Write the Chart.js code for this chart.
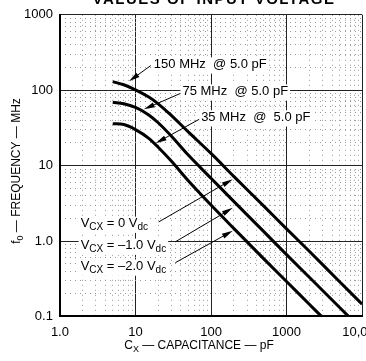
<!DOCTYPE html>
<html>
<head>
<meta charset="utf-8">
<script src="https://cdn.jsdelivr.net/npm/chart.js@4.4.1/dist/chart.umd.min.js"></script>
<style>
  html, body { margin: 0; padding: 0; background: #fff; overflow: hidden; }
  #wrap { position: relative; width: 366px; height: 361px; overflow: hidden; }
  #myChart { position: absolute; left: 0; top: 0; }
</style>
</head>
<body>
<div id="wrap"><canvas id="myChart" width="390" height="361" style="width:390px;height:361px"></canvas></div>
<script>
// f0 vs Cx, one curve per input voltage
const capV0  = [5, 7, 10, 15, 20, 30, 50, 100, 200, 500, 1000, 2000, 5000, 10000];
const freqV0 = [130, 118, 101, 81, 66, 46, 28, 14.5, 7.2, 2.9, 1.45, 0.73, 0.29, 0.145];

const capV1  = [5, 7, 10, 15, 20, 30, 50, 100, 200, 500, 1000, 2000, 5000, 6600];
const freqV1 = [69, 66, 59, 47, 37, 24.5, 13.8, 6.8, 3.35, 1.33, 0.66, 0.33, 0.132, 0.1];

const capV2  = [5, 7, 10, 15, 20, 30, 50, 100, 200, 500, 1000, 2000, 2900];
const freqV2 = [36, 35, 30, 23, 17.5, 11.4, 6.3, 3.0, 1.47, 0.58, 0.29, 0.145, 0.1];

const xTicks = [1, 10, 100, 1000, 10000];
const xTickLabels = ['1.0', '10', '100', '1000', '10,000'];
const yTicks = [0.1, 1, 10, 100, 1000];
const yTickLabels = ['0.1', '1.0', '10', '100', '1000'];

// minor grid positions 2..9 in each decade
function minorTicks(lo, hi) {
  const out = [];
  for (let d = lo; d < hi; d *= 10)
    for (let m = 2; m < 10; m++) out.push(+(d * m).toPrecision(3));
  return out;
}

const FONT = "'Liberation Sans', Arial, Helvetica, sans-serif";
Chart.defaults.font.family = FONT;
Chart.defaults.color = '#000';

const toXY = (xs, ys) => xs.map((v, i) => ({ x: v, y: ys[i] }));

const line = (label, xs, ys) => ({
  label,
  data: toXY(xs, ys),
  borderColor: '#000',
  borderWidth: 3,
  pointRadius: 0,
  cubicInterpolationMode: 'monotone',
  xAxisID: 'x',
  yAxisID: 'y',
});

// text + arrows; positions in data units so the tips land on the curves
const notes = [
  { parts: [['150 MHz  @ 5.0 pF']], at: [17.5, 219], from: [15.9, 212], tip: [8.2, 131] },
  { parts: [['75 MHz  @ 5.0 pF']], at: [41.8, 96], from: [39.3, 90.6], tip: [12.9, 55.7] },
  { parts: [['35 MHz  @  5.0 pF']], at: [74, 43.6], from: [69.7, 41.1], tip: [18.5, 19.8] },
  { parts: [['V'], ['CX', 1], [' = 0 V'], ['dc', 1]], at: [1.88, 1.69], from: [20.3, 1.79], tip: [194, 6.6] },
  { parts: [['V'], ['CX', 1], [' = \u20131.0 V'], ['dc', 1]], at: [1.88, 0.865], from: [33.8, 0.977], tip: [194, 2.75] },
  { parts: [['V'], ['CX', 1], [' = \u20132.0 V'], ['dc', 1]], at: [1.88, 0.457], from: [33.8, 0.517], tip: [194, 1.365] },
];

function drawParts(ctx, parts, x, y, size, align, clear) {
  const sub = Math.round(size * 0.78);
  let w = 0;
  parts.forEach(p => {
    ctx.font = (p[1] ? sub : size) + 'px ' + FONT;
    w += ctx.measureText(p[0]).width;
  });
  let cx = align === 'center' ? x - w / 2 : x;
  if (clear) {
    ctx.save();
    ctx.fillStyle = '#fff';
    ctx.fillRect(cx - 2, y - size * 0.55, w + 4, size * 1.25);
    ctx.restore();
  }
  ctx.textAlign = 'left';
  ctx.textBaseline = 'middle';
  parts.forEach(p => {
    ctx.font = (p[1] ? sub : size) + 'px ' + FONT;
    ctx.fillText(p[0], cx, p[1] ? y + size * 0.28 : y);
    cx += ctx.measureText(p[0]).width;
  });
}

function arrow(ctx, x1, y1, x2, y2) {
  const a = Math.atan2(y2 - y1, x2 - x1);
  const len = 11, half = 2.6;
  ctx.beginPath();
  ctx.moveTo(x1, y1);
  ctx.lineTo(x2 - Math.cos(a) * len * 0.7, y2 - Math.sin(a) * len * 0.7);
  ctx.lineWidth = 1;
  ctx.strokeStyle = '#000';
  ctx.stroke();
  ctx.beginPath();
  ctx.moveTo(x2, y2);
  ctx.lineTo(x2 - Math.cos(a) * len - Math.sin(a) * half, y2 - Math.sin(a) * len + Math.cos(a) * half);
  ctx.lineTo(x2 - Math.cos(a) * len + Math.sin(a) * half, y2 - Math.sin(a) * len - Math.cos(a) * half);
  ctx.closePath();
  ctx.fillStyle = '#000';
  ctx.fill();
}

const notesPlugin = {
  id: 'notes',
  afterDraw(chart) {
    const { ctx } = chart;
    const xs = chart.scales.x, ys = chart.scales.y;
    ctx.save();
    ctx.fillStyle = '#000';
    notes.forEach(n => {
      drawParts(ctx, n.parts, xs.getPixelForValue(n.at[0]), ys.getPixelForValue(n.at[1]), 13, 'left', true);
      arrow(ctx, xs.getPixelForValue(n.from[0]), ys.getPixelForValue(n.from[1]),
        xs.getPixelForValue(n.tip[0]), ys.getPixelForValue(n.tip[1]));
    });

    // axis titles (with subscripts)
    ctx.fillStyle = '#000';
    drawParts(ctx, [['C'], ['X', 1], [' \u2014 CAPACITANCE \u2014 pF']], 199, 346, 12, 'center');
    ctx.save();
    ctx.translate(17, 171);
    ctx.rotate(-Math.PI / 2);
    drawParts(ctx, [['f'], ['0', 1], [' \u2014 FREQUENCY \u2014 MHz']], 0, 0, 12, 'center');
    ctx.restore();

    // figure caption, cut off by the top edge like the scan
    ctx.font = 'bold 15px ' + FONT;
    ctx.textAlign = 'center';
    ctx.textBaseline = 'alphabetic';
    ctx.letterSpacing = '1.5px';
    ctx.fillText('VALUES OF INPUT VOLTAGE', 214, 4);
    ctx.restore();
  }
};

const config = {
  type: 'line',
  data: {
    datasets: [
      line('VCX = 0 Vdc', capV0, freqV0),
      line('VCX = -1.0 Vdc', capV1, freqV1),
      line('VCX = -2.0 Vdc', capV2, freqV2),
    ]
  },
  options: {
    responsive: false,
    animation: false,
    layout: { padding: { left: 17, top: 13, right: 23, bottom: 13 } },
    plugins: { legend: { display: false }, tooltip: { enabled: false }, title: { display: false } },
    scales: {
      x: {
        type: 'logarithmic', min: 1, max: 10000,
        afterBuildTicks: s => { s.ticks = xTicks.map(v => ({ value: v })); },
        ticks: { callback: (v, i) => xTickLabels[i], maxRotation: 0, autoSkip: false, padding: 8, font: { size: 13 } },
        grid: { color: '#222', lineWidth: 1, drawTicks: false },
        border: { color: '#000', width: 2 }
      },
      xMinor: {
        type: 'logarithmic', position: 'bottom', min: 1, max: 10000,
        afterBuildTicks: s => { s.ticks = minorTicks(1, 10000).map(v => ({ value: v })); },
        ticks: { display: false },
        grid: { color: '#999', lineWidth: 1, drawTicks: false },
        border: { display: false, dash: [1, 4] }
      },
      y: {
        type: 'logarithmic', min: 0.1, max: 1000,
        afterBuildTicks: s => { s.ticks = yTicks.map(v => ({ value: v })); },
        ticks: { callback: (v, i) => yTickLabels[i], autoSkip: false, padding: 7, font: { size: 13 } },
        grid: { color: '#222', lineWidth: 1, drawTicks: false },
        border: { color: '#000', width: 2 }
      },
      yMinor: {
        type: 'logarithmic', position: 'left', min: 0.1, max: 1000,
        afterBuildTicks: s => { s.ticks = minorTicks(0.1, 1000).map(v => ({ value: v })); },
        ticks: { display: false },
        grid: { color: '#999', lineWidth: 1, drawTicks: false },
        border: { display: false, dash: [1, 4] }
      }
    }
  },
  plugins: [notesPlugin]
};

const ctx = document.getElementById('myChart');
const myChart = new Chart(ctx, config);
</script>
</body>
</html>
